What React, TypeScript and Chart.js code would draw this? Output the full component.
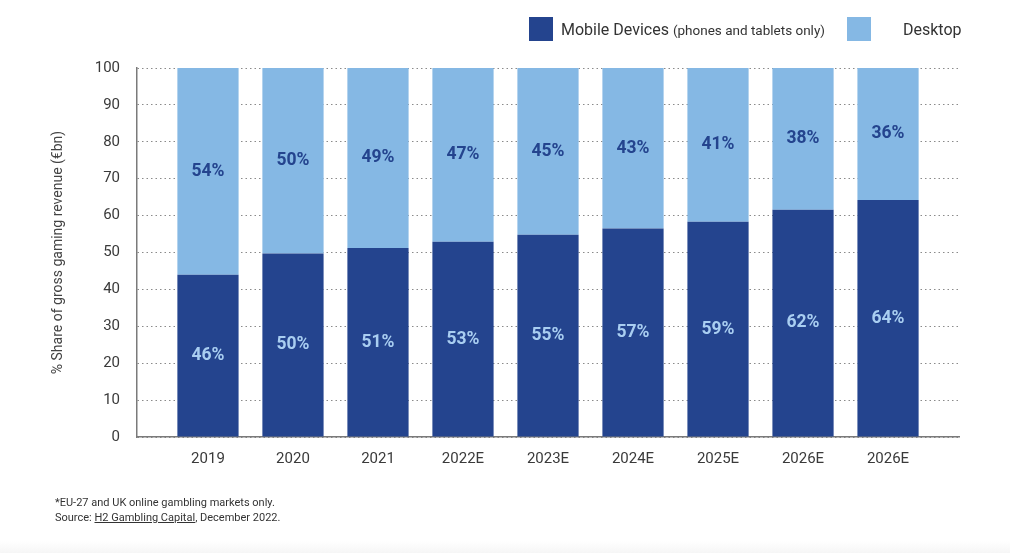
import React, { useEffect, useRef } from "react";
import { Chart, registerables } from "chart.js";

Chart.register(...registerables);

const categories = ["2019", "2020", "2021", "2022E", "2023E", "2024E", "2025E", "2026E", "2026E"];
const mobileValues = [44, 49.7, 51.2, 52.9, 54.8, 56.5, 58.3, 61.6, 64.2];
const desktopValues = [56, 50.3, 48.8, 47.1, 45.2, 43.5, 41.7, 38.4, 35.8];
const mobileLabels = ["46%", "50%", "51%", "53%", "55%", "57%", "59%", "62%", "64%"];
const desktopLabels = ["54%", "50%", "49%", "47%", "45%", "43%", "41%", "38%", "36%"];
const yTicks = [0, 10, 20, 30, 40, 50, 60, 70, 80, 90, 100];

const MOBILE = "#24448e";
const DESKTOP = "#85b8e4";
const FONT = "Roboto, 'Noto Sans', sans-serif";

const labelPlugin = {
  id: "barLabels",
  afterDatasetsDraw(chart: any) {
    const ctx = chart.ctx;
    ctx.save();
    ctx.font = `bold 17.5px ${FONT}`;
    ctx.textAlign = "center";
    ctx.textBaseline = "middle";
    chart.data.datasets.forEach((ds: any, di: number) => {
      const meta = chart.getDatasetMeta(di);
      const labels = di === 0 ? mobileLabels : desktopLabels;
      ctx.fillStyle = di === 0 ? "#a9cef1" : MOBILE;
      meta.data.forEach((el: any, i: number) => {
        const y = (el.y + el.base) / 2;
        ctx.fillText(labels[i], el.x, y);
      });
    });
    ctx.restore();
  },
};

export default function App() {
  const ref = useRef<HTMLCanvasElement | null>(null);
  useEffect(() => {
    document.body.style.margin = "0";
    if (!ref.current) return;
    const chart = new Chart(ref.current, {
      type: "bar",
      data: {
        datasets: [
          {
            label: "Mobile Devices",
            data: mobileValues.map((v, i) => ({ x: i, y: v })),
            backgroundColor: MOBILE,
            borderWidth: 0,
          },
          {
            label: "Desktop",
            data: desktopValues.map((v, i) => ({ x: i, y: v })),
            backgroundColor: DESKTOP,
            borderWidth: 0,
          },
        ],
      },
      plugins: [labelPlugin],
      options: {
        responsive: false,
        animation: false,
        events: [],
        layout: { padding: { left: 50, right: 51, top: 68, bottom: 0 } },
        datasets: { bar: { barPercentage: 0.72, categoryPercentage: 1 } },
        plugins: { legend: { display: false }, tooltip: { enabled: false } },
        scales: {
          x: {
            type: "linear",
            stacked: true,
            offset: false,
            min: -0.835,
            max: 8.835,
            afterBuildTicks: (scale: any) => {
              scale.ticks = categories.map((_, i) => ({ value: i }));
            },
            afterFit: (scale: any) => {
              scale.height = 116;
            },
            ticks: {
              autoSkip: false,
              maxRotation: 0,
              padding: 13,
              color: "#3a3a3a",
              font: { family: FONT, size: 15 },
              callback: (v: any) => categories[v as number] ?? "",
            },
            grid: { display: true, offset: false, drawOnChartArea: false, drawTicks: false },
            border: { display: true, color: "#7a7a7a", width: 1.5 },
          },
          y: {
            stacked: true,
            min: 0,
            max: 100,
            afterBuildTicks: (scale: any) => {
              scale.ticks = yTicks.map((v) => ({ value: v }));
            },
            afterFit: (scale: any) => {
              scale.width = 87;
            },
            ticks: {
              padding: 17,
              color: "#3a3a3a",
              font: { family: FONT, size: 15 },
            },
            grid: { color: "#8a8a8a", lineWidth: 1, drawTicks: false },
            border: { display: true, color: "#7a7a7a", width: 1.5, dash: [1.5, 3] },
            title: {
              display: true,
              text: "% Share of gross gaming revenue (€bn)",
              color: "#444",
              font: { family: FONT, size: 14 },
              padding: { top: 0, bottom: 0 },
            },
          },
        },
      },
    } as any);
    return () => chart.destroy();
  }, []);

  const legendText: React.CSSProperties = {
    position: "absolute",
    top: 19,
    fontFamily: FONT,
    fontSize: 16,
    color: "#333",
    lineHeight: "22px",
    whiteSpace: "nowrap",
  };

  return (
    <div style={{ position: "relative", width: 1010, height: 553, background: "#fff", overflow: "hidden" }}>
      <canvas ref={ref} width={1010} height={553} style={{ position: "absolute", left: 0, top: 0, width: 1010, height: 553 }} />
      <div style={{ position: "absolute", left: 529, top: 17, width: 24, height: 24, background: MOBILE }} />
      <div style={{ ...legendText, left: 561 }}>
        Mobile Devices <span style={{ fontSize: 13.5 }}>(phones and tablets only)</span>
      </div>
      <div style={{ position: "absolute", left: 847, top: 17, width: 24, height: 24, background: DESKTOP }} />
      <div style={{ ...legendText, left: 903 }}>Desktop</div>
      <div
        style={{
          position: "absolute",
          left: 55,
          top: 495,
          fontFamily: FONT,
          fontSize: 11,
          lineHeight: "15px",
          color: "#333",
        }}
      >
        <div>*EU-27 and UK online gambling markets only.</div>
        <div>
          Source: <span style={{ textDecoration: "underline" }}>H2 Gambling Capital</span>, December 2022.
        </div>
      </div>
      <div
        style={{
          position: "absolute",
          left: 0,
          bottom: 0,
          width: 1010,
          height: 12,
          background: "linear-gradient(#ffffff, #f6f6f6)",
        }}
      />
    </div>
  );
}
